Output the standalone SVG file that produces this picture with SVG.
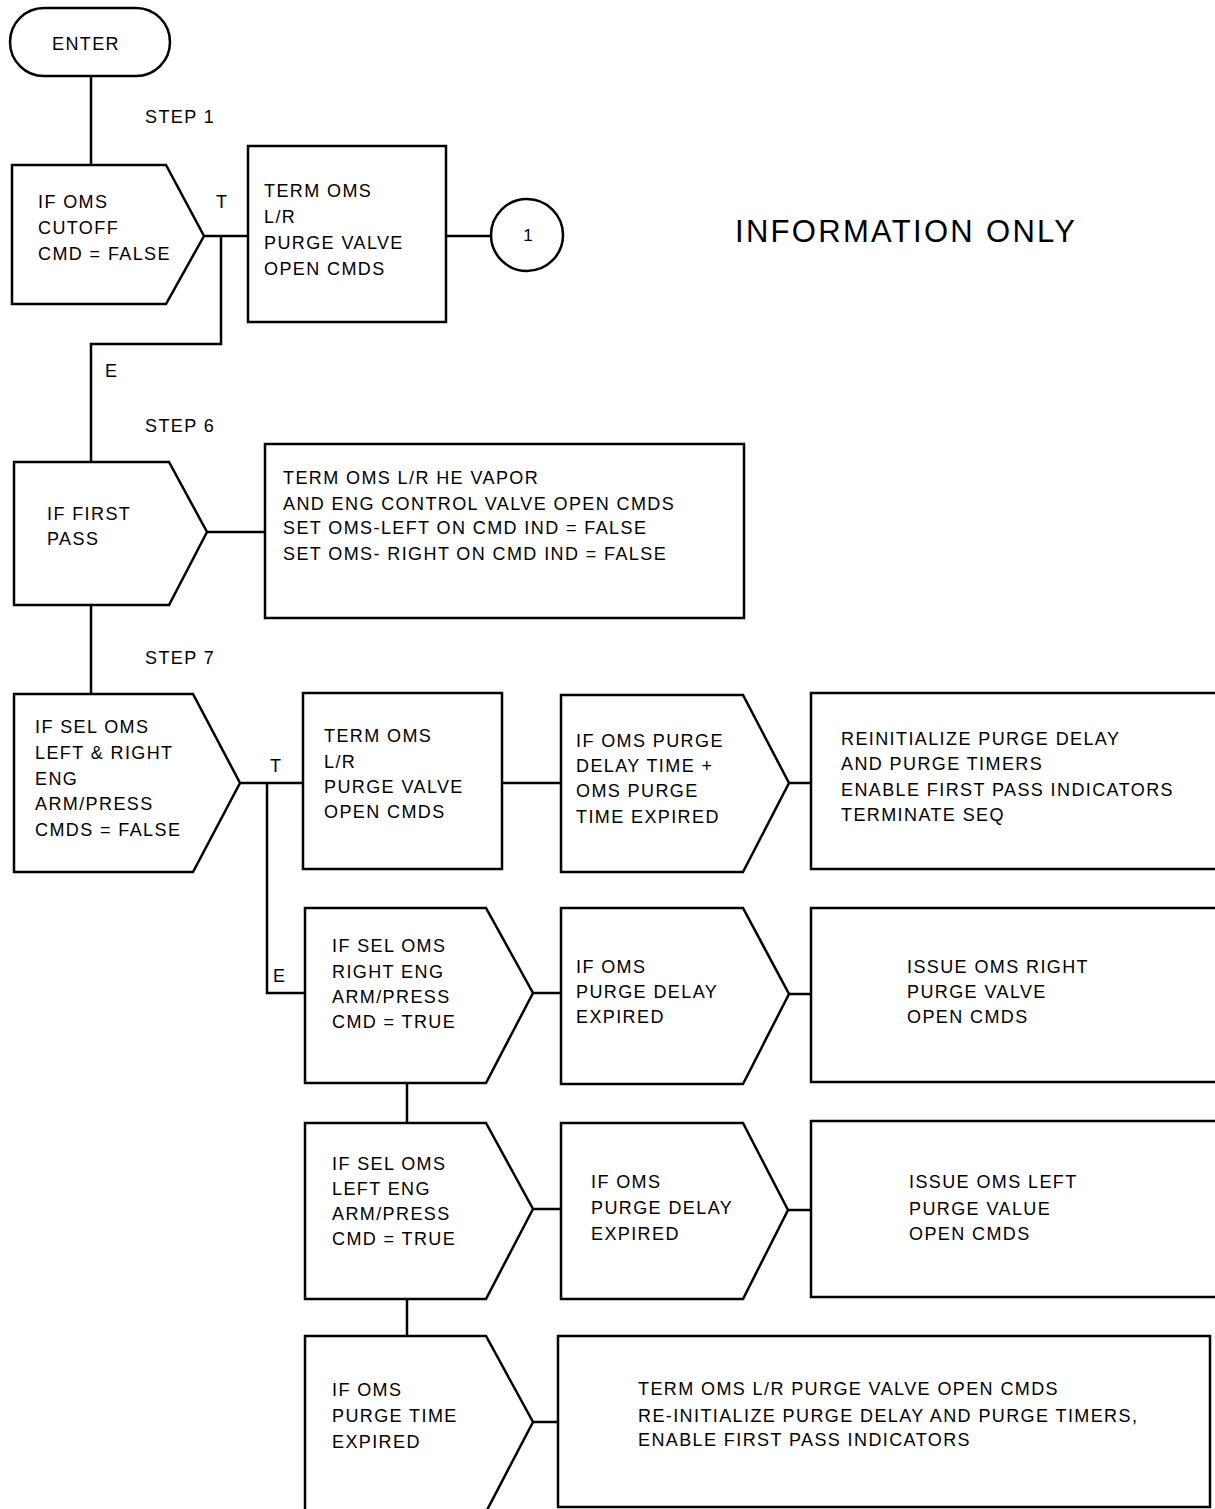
<svg xmlns="http://www.w3.org/2000/svg" width="1215" height="1509" viewBox="0 0 1215 1509">
<style>
.s{fill:#fff;stroke:#000;stroke-width:2.5;stroke-linejoin:miter}
.c{fill:none;stroke:#000;stroke-width:2.5}
text{font-family:"Liberation Sans",Arial,sans-serif;font-size:18px;letter-spacing:1.4px;fill:#000}
.big{font-size:31px;letter-spacing:0}
.n{font-size:17px;letter-spacing:0}
</style>
<rect width="1215" height="1509" fill="#fff"/>
<g id="connectors">
<path class="c" d="M91,76V165"/>
<path class="c" d="M204,236H248"/>
<path class="c" d="M221,236V344H91V462"/>
<path class="c" d="M446,236H491"/>
<path class="c" d="M207,532H265"/>
<path class="c" d="M91,605V694"/>
<path class="c" d="M240,783H303"/>
<path class="c" d="M267,783V993H305"/>
<path class="c" d="M502,783H561"/>
<path class="c" d="M789,783H811"/>
<path class="c" d="M533,993H561"/>
<path class="c" d="M789,994H811"/>
<path class="c" d="M407,1083V1123"/>
<path class="c" d="M533,1209H561"/>
<path class="c" d="M788,1210H811"/>
<path class="c" d="M407,1299V1336"/>
<path class="c" d="M533,1422H558"/>
</g>
<g id="labels">
<text x="145" y="123">STEP 1</text>
<text x="216" y="208">T</text>
<text x="105" y="377">E</text>
<text x="145" y="432">STEP 6</text>
<text x="145" y="664">STEP 7</text>
<text x="270" y="772">T</text>
<text x="273" y="982">E</text>
<text class="big" x="735" y="242" textLength="340" lengthAdjust="spacing">INFORMATION ONLY</text>
</g>
<g id="enter">
<rect class="s" x="10" y="8" width="160" height="68" rx="34"/>
<text x="52" y="50">ENTER</text>
</g>
<g id="d1">
<polygon class="s" points="12,165 166,165 204,236 166,304 12,304"/>
<text x="38" y="208">IF OMS</text>
<text x="38" y="234">CUTOFF</text>
<text x="38" y="260">CMD = FALSE</text>
</g>
<g id="b1">
<rect class="s" x="248" y="146" width="198" height="176"/>
<text x="264" y="197">TERM OMS</text>
<text x="264" y="223">L/R</text>
<text x="264" y="249">PURGE VALVE</text>
<text x="264" y="275">OPEN CMDS</text>
</g>
<g id="conn1">
<circle class="s" cx="527" cy="235" r="36"/>
<text class="n" x="528" y="241" text-anchor="middle">1</text>
</g>
<g id="d6">
<polygon class="s" points="14,462 169,462 207,532 169,605 14,605"/>
<text x="47" y="520">IF FIRST</text>
<text x="47" y="545">PASS</text>
</g>
<g id="b6">
<rect class="s" x="265" y="444" width="479" height="174"/>
<text x="283" y="484">TERM OMS L/R HE VAPOR</text>
<text x="283" y="510">AND ENG CONTROL VALVE OPEN CMDS</text>
<text x="283" y="534">SET OMS-LEFT ON CMD IND = FALSE</text>
<text x="283" y="560">SET OMS- RIGHT ON CMD IND = FALSE</text>
</g>
<g id="d7">
<polygon class="s" points="14,694 193,694 240,783 193,872 14,872"/>
<text x="35" y="733">IF SEL OMS</text>
<text x="35" y="759">LEFT &amp; RIGHT</text>
<text x="35" y="785">ENG</text>
<text x="35" y="810">ARM/PRESS</text>
<text x="35" y="836">CMDS = FALSE</text>
</g>
<g id="b7">
<rect class="s" x="303" y="693" width="199" height="176"/>
<text x="324" y="742">TERM OMS</text>
<text x="324" y="768">L/R</text>
<text x="324" y="793">PURGE VALVE</text>
<text x="324" y="818">OPEN CMDS</text>
</g>
<g id="d7b">
<polygon class="s" points="561,695 743,695 789,783 743,872 561,872"/>
<text x="576" y="747">IF OMS PURGE</text>
<text x="576" y="772">DELAY TIME +</text>
<text x="576" y="797">OMS PURGE</text>
<text x="576" y="823">TIME EXPIRED</text>
</g>
<g id="b7c">
<rect class="s" x="811" y="693" width="412" height="176"/>
<text x="841" y="745">REINITIALIZE PURGE DELAY</text>
<text x="841" y="770">AND PURGE TIMERS</text>
<text x="841" y="796">ENABLE FIRST PASS INDICATORS</text>
<text x="841" y="821">TERMINATE SEQ</text>
</g>
<g id="d8">
<polygon class="s" points="305,908 486,908 533,993 486,1083 305,1083"/>
<text x="332" y="952">IF SEL OMS</text>
<text x="332" y="978">RIGHT ENG</text>
<text x="332" y="1003">ARM/PRESS</text>
<text x="332" y="1028">CMD = TRUE</text>
</g>
<g id="d8b">
<polygon class="s" points="561,908 743,908 789,994 743,1084 561,1084"/>
<text x="576" y="973">IF OMS</text>
<text x="576" y="998">PURGE DELAY</text>
<text x="576" y="1023">EXPIRED</text>
</g>
<g id="b8">
<rect class="s" x="811" y="908" width="412" height="174"/>
<text x="907" y="973">ISSUE OMS RIGHT</text>
<text x="907" y="998">PURGE VALVE</text>
<text x="907" y="1023">OPEN CMDS</text>
</g>
<g id="d9">
<polygon class="s" points="305,1123 486,1123 533,1209 486,1299 305,1299"/>
<text x="332" y="1170">IF SEL OMS</text>
<text x="332" y="1195">LEFT ENG</text>
<text x="332" y="1220">ARM/PRESS</text>
<text x="332" y="1245">CMD = TRUE</text>
</g>
<g id="d9b">
<polygon class="s" points="561,1123 743,1123 788,1210 743,1299 561,1299"/>
<text x="591" y="1188">IF OMS</text>
<text x="591" y="1214">PURGE DELAY</text>
<text x="591" y="1240">EXPIRED</text>
</g>
<g id="b9">
<rect class="s" x="811" y="1121" width="412" height="176"/>
<text x="909" y="1188">ISSUE OMS LEFT</text>
<text x="909" y="1215">PURGE VALUE</text>
<text x="909" y="1240">OPEN CMDS</text>
</g>
<g id="d10">
<polygon class="s" points="305,1336 486,1336 533,1422 486,1512 305,1512"/>
<text x="332" y="1396">IF OMS</text>
<text x="332" y="1422">PURGE TIME</text>
<text x="332" y="1448">EXPIRED</text>
</g>
<g id="b10">
<rect class="s" x="558" y="1336" width="652" height="171"/>
<text x="638" y="1395">TERM OMS L/R PURGE VALVE OPEN CMDS</text>
<text x="638" y="1422">RE-INITIALIZE PURGE DELAY AND PURGE TIMERS,</text>
<text x="638" y="1446">ENABLE FIRST PASS INDICATORS</text>
</g>
</svg>
